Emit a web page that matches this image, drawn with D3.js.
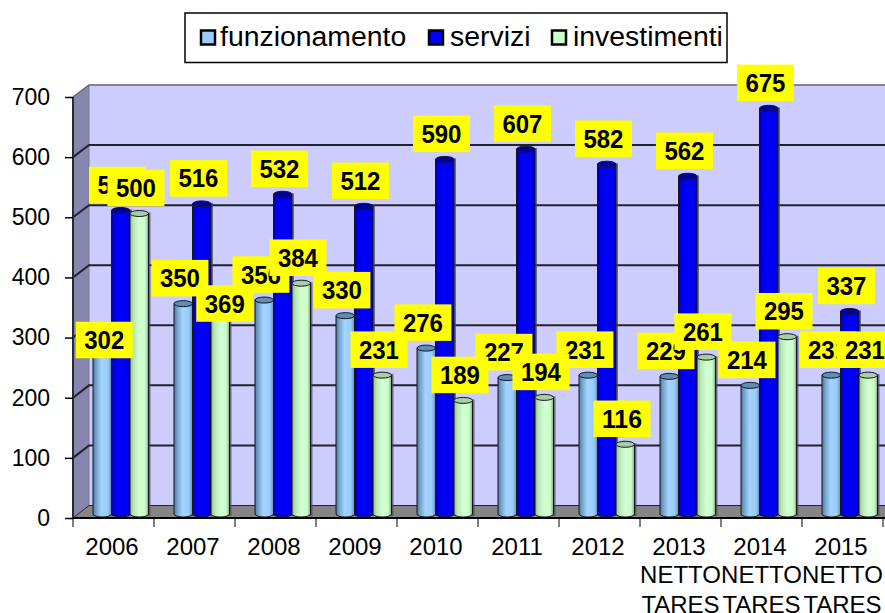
<!DOCTYPE html>
<html>
<head>
<meta charset="utf-8">
<script src="https://cdn.jsdelivr.net/npm/d3@7/dist/d3.min.js"></script>
<style>
html,body{margin:0;padding:0;background:#fff;overflow:hidden}
svg{display:block}
text{font-family:"Liberation Sans",Arial,sans-serif;fill:#000}
</style>
</head>
<body>
<svg id="chart" width="885" height="613"></svg>
<script>
const years = ["2006","2007","2008","2009","2010","2011","2012","2013","2014","2015"];
const noteLine1 = ["","","","","","","","NETTO","NETTO","NETTO"];
const noteLine2 = ["","","","","","","","TARES","TARES","TARES"];
const seriesNames = ["funzionamento","servizi","investimenti"];
const funzionamento = [302,350,356,330,276,227,231,229,214,231];
const servizi = [505,516,532,512,590,607,582,562,675,337];
const investimenti = [500,369,384,231,189,194,116,261,295,231];
const yTicks = [0,100,200,300,400,500,600,700];

const seriesValues = [funzionamento, servizi, investimenti];
const width = 885, height = 613;
const svg = d3.select("#chart");

const x = d3.scaleBand().domain(years).range([73, 883]);
const series = d3.scaleBand().domain(seriesNames).range([20, 75.5]);
const yFront = d3.scaleLinear().domain([0,700]).range([518, 97]);
const yBack = d3.scaleLinear().domain([0,700]).range([505.5, 85]);
const yBar = d3.scaleLinear().domain([0,700]).range([514, 93.3]);

const frontX = 73, backX = 89;

/* gradients */
const defs = svg.append("defs");
const gradStops = [
  [[0,"#4f7698"],[0.14,"#6f9cc4"],[0.45,"#a3d4ff"],[0.8,"#99ccff"],[1,"#6a93b8"]],
  [[0,"#00008c"],[0.14,"#0000e6"],[0.45,"#0000ff"],[0.85,"#0000f0"],[1,"#0000a8"]],
  [[0,"#8fb58f"],[0.18,"#b6e6b6"],[0.5,"#d2ffd2"],[0.82,"#ccffcc"],[1,"#86a886"]]
];
gradStops.forEach((stops,i)=>{
  const g = defs.append("linearGradient").attr("id","cyl"+i);
  stops.forEach(s=>g.append("stop").attr("offset",s[0]).attr("stop-color",s[1]));
});
const swatchFill = ["#99ccff","#0000ff","#ccffcc"];
const capFill = ["#5f8db5","#0000a0","#a5cfa5"];

/* walls and floor */
svg.append("rect").attr("x",backX).attr("y",yBack(700)).attr("width",width-backX).attr("height",yBack(0)-yBack(700)).attr("fill","#ccccff");
svg.append("path").attr("fill","#8686ae")
  .attr("d",d3.line()([[frontX,yFront(700)],[backX,yBack(700)],[backX,yBack(0)],[frontX,yFront(0)]])+"Z");
svg.append("path").attr("fill","#858585")
  .attr("d",d3.line()([[frontX,yFront(0)],[backX,yBack(0)],[width,yBack(0)],[width,yFront(0)]])+"Z");
svg.append("line").attr("x1",backX).attr("x2",backX).attr("y1",yBack(700)).attr("y2",yBack(0)).attr("stroke","#77778f").attr("stroke-width",1);

/* gridlines */
const grid = svg.append("g");
yTicks.forEach(v=>{
  const isTop = v===700, isZero = v===0;
  grid.append("path").attr("fill","none")
    .attr("stroke", isTop ? "#666670" : "#22222c")
    .attr("stroke-width", isZero ? 1 : (isTop ? 1.5 : 2))
    .attr("d",d3.line()([[frontX,yFront(v)],[backX,yBack(v)],[width,yBack(v)]]));
});

/* front axis edges */
svg.append("line").attr("x1",frontX).attr("x2",frontX).attr("y1",yFront(700)).attr("y2",yFront(0)).attr("stroke","#2a2a33").attr("stroke-width",2);
svg.append("line").attr("x1",frontX).attr("x2",width).attr("y1",yFront(0)).attr("y2",yFront(0)).attr("stroke","#000").attr("stroke-width",2);

/* y axis */
const yAxis = svg.append("g").attr("transform",`translate(${frontX},0)`)
  .call(d3.axisLeft(yFront).tickValues(yTicks).tickSize(8).tickPadding(15));
yAxis.select(".domain").remove();
yAxis.selectAll("line").attr("stroke","#000").attr("stroke-width",1.5);
yAxis.selectAll("text").attr("font-size",23).attr("font-family","Liberation Sans");

/* x axis */
const xAxis = svg.append("g").attr("transform",`translate(0,${yFront(0)})`)
  .call(d3.axisBottom(x).tickSize(0).tickPadding(20));
xAxis.select(".domain").remove();
xAxis.selectAll("text").attr("font-size",24).attr("font-family","Liberation Sans").attr("dx",-1.5);
[...years.map(y=>x(y)), x(years[years.length-1])+x.bandwidth()].forEach(px=>{
  svg.append("line").attr("x1",px).attr("x2",px).attr("y1",yFront(0)).attr("y2",yFront(0)+9).attr("stroke","#000").attr("stroke-width",1);
});
years.forEach((y,i)=>{
  const cx = x(y)+x.bandwidth()/2;
  svg.append("text").attr("x",cx).attr("y",583).attr("text-anchor","middle").attr("font-size",24).text(noteLine1[i]);
  svg.append("text").attr("x",cx).attr("y",613).attr("text-anchor","middle").attr("font-size",24).text(noteLine2[i]);
});

/* cylinders */
const capRy = 3;
const bars = svg.append("g");
years.forEach((y,yi)=>{
  seriesNames.forEach((name,si)=>{
    const v = seriesValues[si][yi];
    const bx = x(y)+series(name), bw = series.bandwidth();
    const top = yBar(v), base = yBar(0);
    const rx = bw/2, cx = bx+rx;
    bars.append("rect").attr("x",bx+1).attr("y",top-capRy+2).attr("width",bw+1).attr("height",base-top+capRy)
      .attr("fill","#4a4a58").attr("opacity",0.75);
    bars.append("path")
      .attr("d",`M${bx},${top}L${bx},${base}A${rx},${capRy} 0 0 0 ${bx+bw},${base}L${bx+bw},${top}Z`)
      .attr("fill",`url(#cyl${si})`).attr("stroke","#16161e").attr("stroke-width",1);
    bars.append("ellipse").attr("cx",cx).attr("cy",top).attr("rx",rx).attr("ry",capRy)
      .attr("fill",capFill[si]).attr("stroke","#16161e").attr("stroke-width",1);
  });
});

/* value labels */
const labelW = 57, labelH = 36.5;
const labelDx = -3.3, labelDy = -25.5;
const labelMoved = {"0-0":[2,7.5],"2-1":[4.5,11.3]};
const labels = svg.append("g");
seriesNames.forEach((name,si)=>{
  years.forEach((y,yi)=>{
    const v = seriesValues[si][yi];
    const cxBar = x(y)+series(name)+series.bandwidth()/2;
    const m = labelMoved[si===0?"0-"+yi:(si===2?"2-"+yi:"n")];
    const cx = cxBar+(m?m[0]:labelDx), cy = yBar(v)+(m?m[1]:labelDy);
    labels.append("rect").attr("x",cx-labelW/2).attr("y",cy-labelH/2).attr("width",labelW).attr("height",labelH).attr("fill","#ffff00");
    labels.append("text").attr("x",cx).attr("y",cy+9).attr("text-anchor","middle")
      .attr("font-size",25.5).attr("font-weight","bold")
      .attr("textLength",40).attr("lengthAdjust","spacingAndGlyphs").text(v);
  });
});

/* legend */
const legend = svg.append("g");
legend.append("rect").attr("x",185).attr("y",13).attr("width",542).attr("height",49.5)
  .attr("fill","#fff").attr("stroke","#000").attr("stroke-width",1.5);
const legendSwatchX = d3.scaleOrdinal().domain(seriesNames).range([201,429,552]);
const legendTextX = d3.scaleOrdinal().domain(seriesNames).range([220,450,573]);
seriesNames.forEach((name,i)=>{
  legend.append("rect").attr("x",legendSwatchX(name)).attr("y",30.5).attr("width",14).attr("height",14)
    .attr("fill",swatchFill[i]).attr("stroke","#000").attr("stroke-width",2.5);
  legend.append("text").attr("x",legendTextX(name)).attr("y",46).attr("font-size",28.4).text(name);
});
</script>
</body>
</html>
